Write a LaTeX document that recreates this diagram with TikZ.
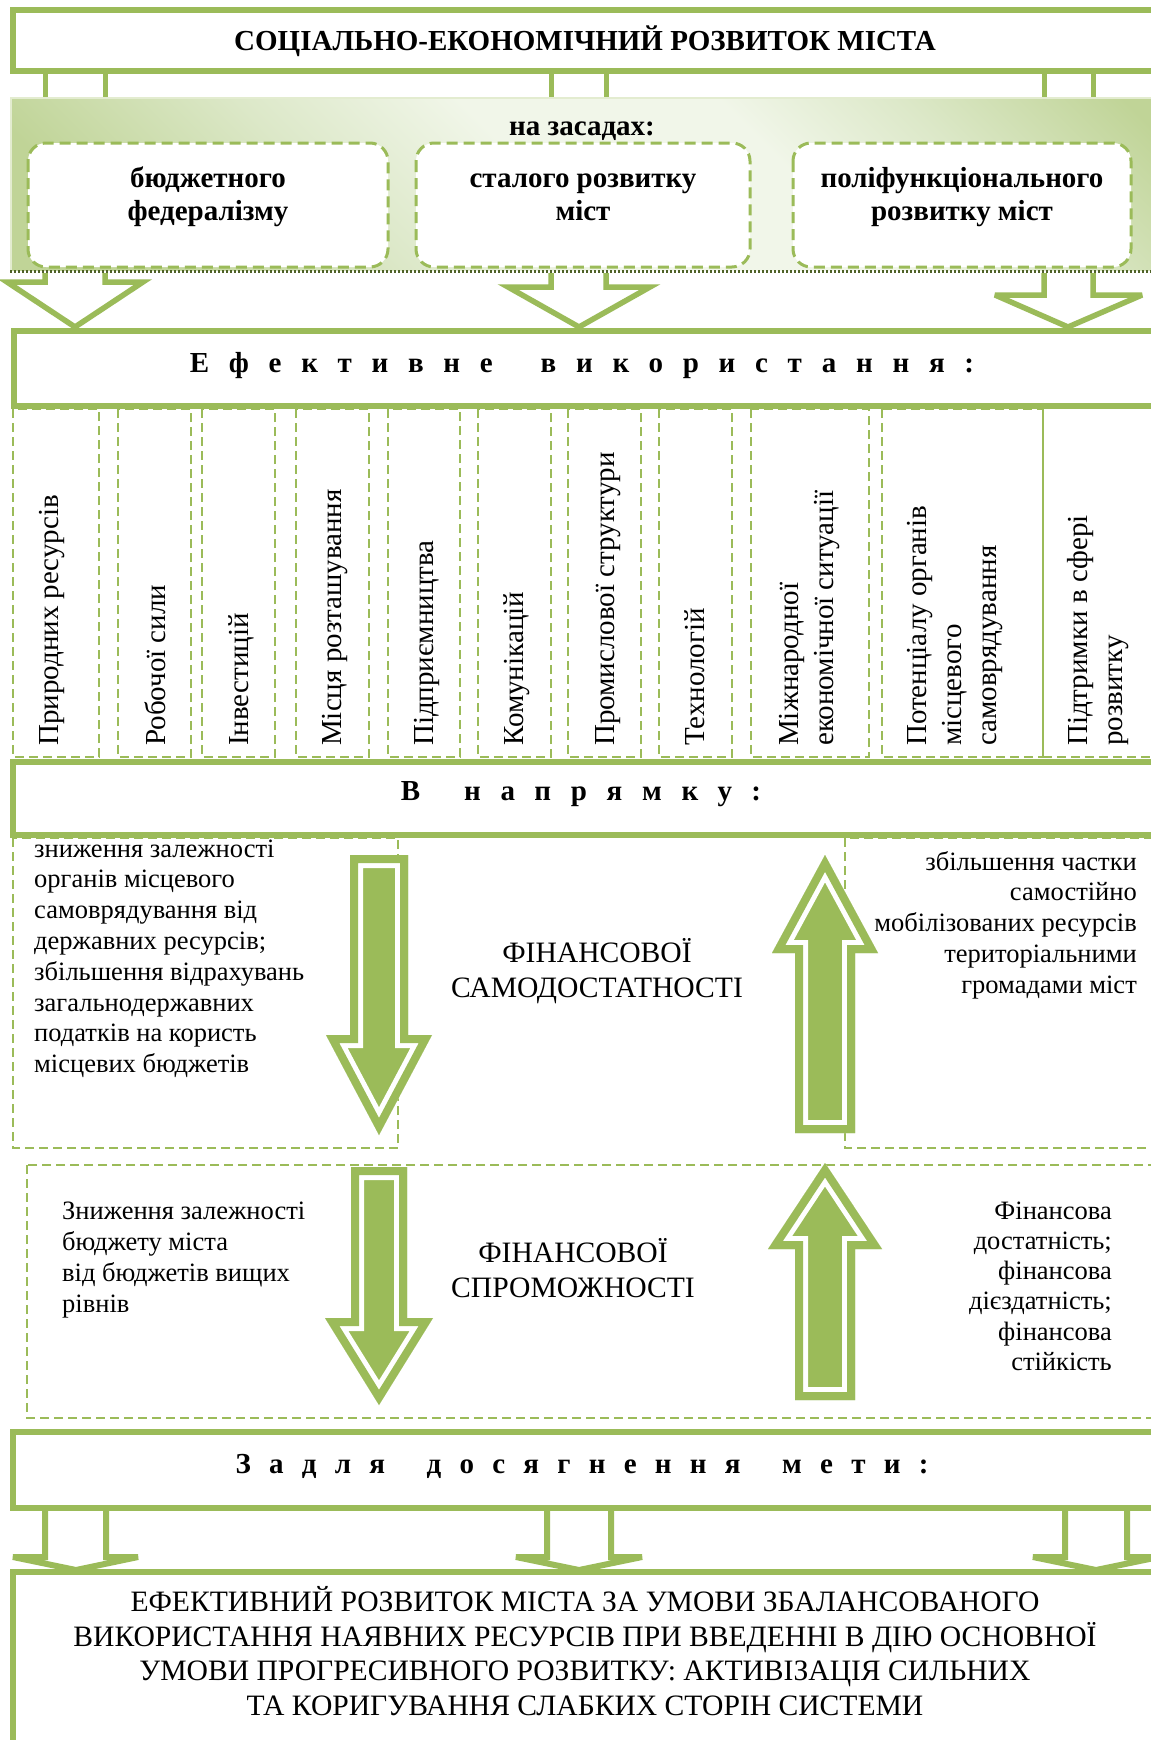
\documentclass[tikz,border=0pt]{standalone}
\usepackage{fontspec}
\setmainfont{Liberation Serif}
\definecolor{og}{HTML}{9BBB59}
\definecolor{dotc}{HTML}{4F6228}
\definecolor{panelin}{HTML}{F1F6E9}
\definecolor{panelmid}{HTML}{DCE8C8}
\definecolor{panelout}{HTML}{C0D497}
\pgfdeclareverticalshading{panelsh}{100bp}{color(0bp)=(panelout); color(22bp)=(panelout); color(36bp)=(panelmid); color(48bp)=(panelin); color(62bp)=(panelin); color(72bp)=(panelmid); color(84bp)=(panelout); color(100bp)=(panelout)}
\newcommand\fatarrow[1]{%
  \fill[og] #1;
  \begin{scope}
    \clip #1;
    \draw[white, line width=26pt, line join=miter] #1;
    \draw[og, line width=16pt, line join=miter] #1;
  \end{scope}}
\begin{document}
\begin{tikzpicture}[x=1pt,y=-1pt,
  bigbox/.style={draw=og,line width=6pt},
  conn/.style={draw=og,line width=5pt},
  hollow/.style={draw=og,fill=white,line width=5.5pt,line join=miter,miter limit=4},
  hollowflat/.style={draw=og,fill=white,line width=6pt,line join=miter,miter limit=1.5},
  dashbox/.style={draw=og,line width=2.6pt,dash pattern=on 9pt off 5pt},
  roundbox/.style={draw=og,fill=white,line width=3pt,dash pattern=on 11pt off 6pt,rounded corners=18pt},
  hfont/.style={font=\bfseries\fontsize{29}{33}\selectfont,inner sep=0pt},
  spaced/.style={font=\bfseries\fontsize{29}{33}\selectfont\addfontfeature{LetterSpace=68},inner sep=0pt},
  rot/.style={rotate=90,anchor=north west,align=left,inner sep=0pt,font=\fontsize{29}{35}\selectfont},
  body/.style={inner sep=0pt,font=\fontsize{26.5}{30.8}\selectfont},
  caps/.style={inner sep=0pt,font=\fontsize{29.6}{35}\selectfont,align=center}]
\useasboundingbox (0,0) rectangle (1151,1740);
\clip (0,0) rectangle (1151,1740);
\fill[white] (0,0) rectangle (1151,1740);

% title
\draw[bigbox] (13,10) rectangle (1200,71);
\node[hfont,anchor=base] (title) at (585,50) {СОЦІАЛЬНО-ЕКОНОМІЧНИЙ РОЗВИТОК МІСТА};
\foreach \x in {45,105,551,606,1044,1093} \draw[conn] (\x,74) -- (\x,97);

% panel
\shade[shading=panelsh, shading angle=-45] (10,97) rectangle (1151,270);
\draw[white!55!panelout,line width=1.5pt] (1151,98) -- (11,98) -- (11,270);
\node[hfont,anchor=base] (zas) at (582,135) {на засадах:};
\draw[roundbox] (28,143) rectangle (388,267);
\draw[roundbox] (416,143) rectangle (750,267);
\draw[roundbox] (793,143) rectangle (1131,267);
\node[hfont,align=center,anchor=north] (b1) at (208,164) {\strut бюджетного\\федералізму};
\node[hfont,align=center,anchor=north] (b2) at (583,164) {\strut сталого розвитку\\міст};
\node[hfont,align=center,anchor=north] (b3) at (962,164) {\strut поліфункціонального\\розвитку міст};

% arrows to "Ефективне"
\path[hollow] (45,273) -- (45,282) -- (7,282) -- (75,327) -- (143,282) -- (105,282) -- (105,273);
\path[hollow] (551,273) -- (551,287) -- (508,287) -- (579,327) -- (650,287) -- (606,287) -- (606,273);
\path[hollow] (1044,273) -- (1044,295) -- (995,295) -- (1068,327) -- (1142,295) -- (1093,295) -- (1093,273);
\draw[dotc,line width=3pt,dash pattern=on 2pt off 2pt] (10,271.5) -- (1151,271.5);

% Ефективне використання
\draw[bigbox] (14,331) rectangle (1200,406);
\node[spaced,anchor=base] (eff) at (582,372) {Ефективне\hspace{21pt} використання:};

\foreach \a/\b in {13/99,118/191,202/275,296/369,388/460,478/551,568/641,659/732,751/869,882/1043}
  \draw[dashbox] (\a,409) rectangle (\b,757);
\draw[og,line width=1.2pt] (1043,409) -- (1043,757);
\draw[dashbox] (1043,757) -- (1160,757);

\node[rot] (c1) at (34,746) {\strut Природних ресурсів};
\node[rot] (c2) at (141,746) {\strut Робочої сили};
\node[rot] (c3) at (224,746) {\strut Інвестицій};
\node[rot] (c4) at (317,746) {\strut Місця розташування};
\node[rot] (c5) at (409,746) {\strut Підприємництва};
\node[rot] (c6) at (499,746) {\strut Комунікацій};
\node[rot] (c7) at (590,746) {\strut Промислової структури};
\node[rot] (c8) at (680,746) {\strut Технологій};
\node[rot] (c9) at (774,746) {\strut Міжнародної\\економічної ситуації};
\node[rot] (c10) at (902,746) {\strut Потенціалу органів\\місцевого\\самоврядування};
\node[rot] (c11) at (1063,746) {\strut Підтримки в сфері\\розвитку};

% В напрямку
\draw[bigbox] (13,762) rectangle (1200,835);
\node[spaced,anchor=base] (napr) at (581,800) {В\hspace{17pt} напрямку:};

\draw[dashbox] (13,838) rectangle (398,1148);
\draw[dashbox] (845,838) rectangle (1200,1148);
\draw[dashbox] (27,1165) rectangle (1200,1418);

\fatarrow{(350,855) -- (408,855) -- (408,1035) -- (432,1035) -- (379,1135) -- (326,1035) -- (350,1035) -- cycle}
\fatarrow{(795,1133) -- (855,1133) -- (855,953) -- (878,953) -- (825,855) -- (772,953) -- (795,953) -- cycle}
\fatarrow{(351,1167) -- (407,1167) -- (407,1318) -- (433,1318) -- (379,1405) -- (325,1318) -- (351,1318) -- cycle}
\fatarrow{(795,1400) -- (855,1400) -- (855,1249) -- (882,1249) -- (825,1163) -- (768,1249) -- (795,1249) -- cycle}

\node[body,anchor=north west,align=left] (ul) at (34,835.4) {\strut зниження залежності\\органів місцевого\\самоврядування від\\державних ресурсів;\\збільшення відрахувань\\загальнодержавних\\податків на користь\\місцевих бюджетів};
\node[body,anchor=north east,align=right] (ur) at (1137,848.4) {\strut збільшення частки\\самостійно\\мобілізованих ресурсів\\територіальними\\громадами міст};
\node[caps,anchor=north] (fs1) at (597,937.5) {\strut ФІНАНСОВОЇ\\САМОДОСТАТНОСТІ};
\node[body,anchor=north west,align=left] (ll) at (62,1198) {\strut Зниження залежності\\бюджету міста\\від бюджетів вищих\\рівнів};
\node[body,anchor=north east,align=right,font=\fontsize{26.5}{30.2}\selectfont] (lr) at (1112,1198) {\strut Фінансова\\достатність;\\фінансова\\дієздатність;\\фінансова\\стійкість};
\node[caps,anchor=north] (fs2) at (573,1237.5) {\strut ФІНАНСОВОЇ\\СПРОМОЖНОСТІ};

% Задля досягнення мети
\draw[bigbox] (13,1432) rectangle (1200,1508);
\node[spaced,anchor=base,font=\bfseries\fontsize{29}{33}\selectfont\addfontfeature{LetterSpace=63}] (goal) at (582,1473) {Задля\hspace{16pt} досягнення\hspace{16pt} мети:};

\path[hollowflat] (45,1511) -- (45,1557) -- (13,1557) -- (76,1570) -- (138,1557) -- (106,1557) -- (106,1511);
\path[hollowflat] (547,1511) -- (547,1557) -- (516,1557) -- (579,1570) -- (642,1557) -- (611,1557) -- (611,1511);
\path[hollowflat] (1065,1511) -- (1065,1557) -- (1033,1557) -- (1096,1570) -- (1159,1557) -- (1127,1557) -- (1127,1511);

\draw[bigbox] (13,1572) rectangle (1200,1800);
\node[caps,anchor=north,font=\fontsize{29.6}{34.3}\selectfont] (res) at (585,1586) {\strut ЕФЕКТИВНИЙ РОЗВИТОК МІСТА ЗА УМОВИ ЗБАЛАНСОВАНОГО\\ВИКОРИСТАННЯ НАЯВНИХ РЕСУРСІВ ПРИ ВВЕДЕННІ В ДІЮ ОСНОВНОЇ\\УМОВИ ПРОГРЕСИВНОГО РОЗВИТКУ: АКТИВІЗАЦІЯ СИЛЬНИХ\\ТА КОРИГУВАННЯ СЛАБКИХ СТОРІН СИСТЕМИ};
\end{tikzpicture}
\end{document}
